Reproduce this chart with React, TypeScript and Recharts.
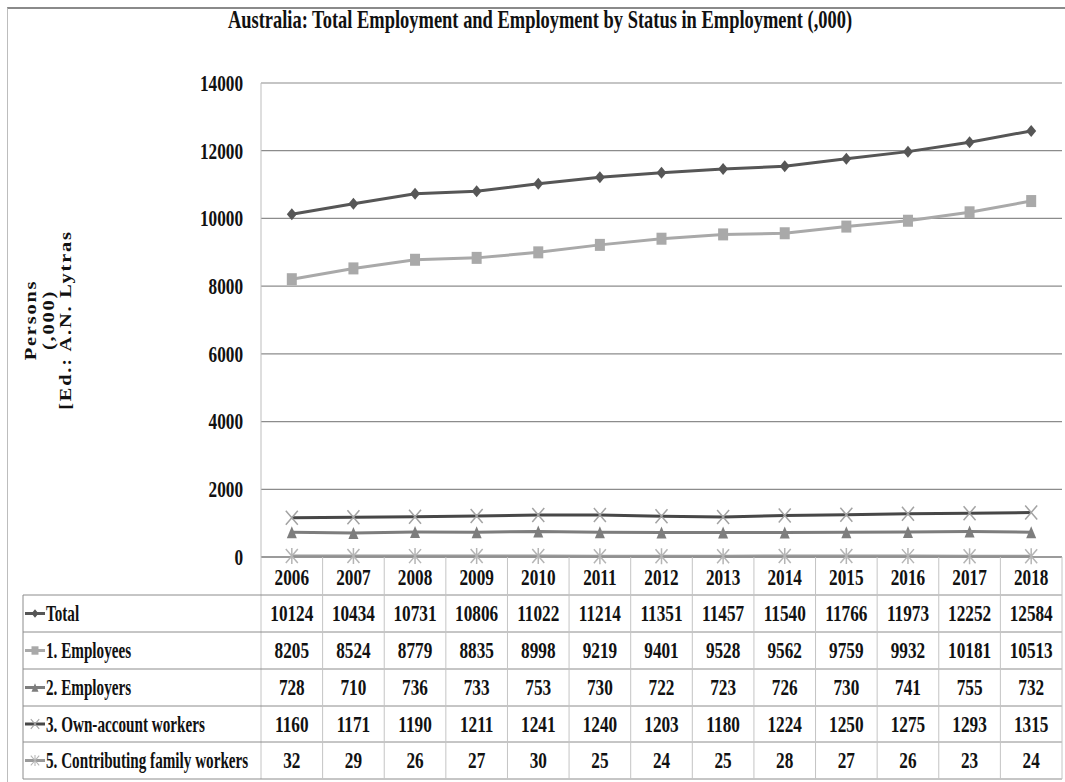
import React from 'react';
import { LineChart, Line, XAxis, YAxis, CartesianGrid } from 'recharts';

const years = ['2006', '2007', '2008', '2009', '2010', '2011', '2012', '2013', '2014', '2015', '2016', '2017', '2018'];
const total = [10124, 10434, 10731, 10806, 11022, 11214, 11351, 11457, 11540, 11766, 11973, 12252, 12584];
const employees = [8205, 8524, 8779, 8835, 8998, 9219, 9401, 9528, 9562, 9759, 9932, 10181, 10513];
const employers = [728, 710, 736, 733, 753, 730, 722, 723, 726, 730, 741, 755, 732];
const ownAccount = [1160, 1171, 1190, 1211, 1241, 1240, 1203, 1180, 1224, 1250, 1275, 1293, 1315];
const familyWorkers = [32, 29, 26, 27, 30, 25, 24, 25, 28, 27, 26, 23, 24];
const yTicks = [0, 2000, 4000, 6000, 8000, 10000, 12000, 14000];

const W = 1065;
const H = 782;
const PLOT_LEFT = 261;
const PLOT_RIGHT = 1062;
const PLOT_TOP = 83;
const PLOT_BOTTOM = 557;
const BAND = (PLOT_RIGHT - PLOT_LEFT) / years.length;
const TABLE_LEFT = 23;
const ROW_LINES = [595, 632, 669, 706, 742, 779];
const FONT = "'Liberation Serif', 'Times New Roman', serif";

const data = years.map((y, i) => ({
  year: y,
  total: total[i],
  employees: employees[i],
  employers: employers[i],
  ownAccount: ownAccount[i],
  familyWorkers: familyWorkers[i],
}));

// marker shapes
const diamond = (fill: string) => (p: any) => (
  <path key={`d${p.index}`} d={`M${p.cx},${p.cy - 6}L${p.cx + 5},${p.cy}L${p.cx},${p.cy + 6}L${p.cx - 5},${p.cy}Z`} fill={fill} />
);
const square = (fill: string) => (p: any) => (
  <rect key={`s${p.index}`} x={p.cx - 5} y={p.cy - 6} width={10} height={12} fill={fill} />
);
const triangle = (fill: string) => (p: any) => (
  <path key={`t${p.index}`} d={`M${p.cx},${p.cy - 6}L${p.cx + 5},${p.cy + 6}L${p.cx - 5},${p.cy + 6}Z`} fill={fill} />
);
const cross = (stroke: string) => (p: any) => (
  <path key={`x${p.index}`} d={`M${p.cx - 6},${p.cy - 7}L${p.cx + 6},${p.cy + 7}M${p.cx + 6},${p.cy - 7}L${p.cx - 6},${p.cy + 7}`} stroke={stroke} strokeWidth={1.5} />
);
const star = (stroke: string) => (p: any) => (
  <path key={`a${p.index}`} d={`M${p.cx - 6},${p.cy - 7}L${p.cx + 6},${p.cy + 7}M${p.cx + 6},${p.cy - 7}L${p.cx - 6},${p.cy + 7}M${p.cx},${p.cy - 8}L${p.cx},${p.cy + 8}`} stroke={stroke} strokeWidth={1.5} />
);

const series = [
  { key: 'total', label: 'Total', values: total, color: '#565656', markColor: '#565656', mark: diamond },
  { key: 'employees', label: '1. Employees', values: employees, color: '#a9a9a9', markColor: '#a9a9a9', mark: square },
  { key: 'employers', label: '2. Employers', values: employers, color: '#7d7d7d', markColor: '#7d7d7d', mark: triangle },
  { key: 'ownAccount', label: '3. Own-account workers', values: ownAccount, color: '#474747', markColor: '#a3a3a3', mark: cross },
  { key: 'familyWorkers', label: '5. Contributing family workers', values: familyWorkers, color: '#9a9a9a', markColor: '#b5b5b5', mark: star },
];

const Txt = ({ x, y, anchor, size = 23, squeeze = 0.75, children }: any) => (
  <text
    transform={`translate(${x},${y}) scale(${squeeze},1)`}
    textAnchor={anchor}
    dominantBaseline="central"
    fontFamily={FONT}
    fontWeight="bold"
    fontSize={size}
    fill="#111"
  >
    {children}
  </text>
);

const YTick = (props: any) => {
  const { x, y, payload } = props;
  return <Txt x={x} y={y} anchor="end" size={23}>{payload.value}</Txt>;
};

const TableTick = (props: any) => {
  const { x, payload, index } = props;
  const i = index ?? years.indexOf(payload.value);
  const gridStroke = '#c4c4c4';
  const rowLine = '#8c8c8c';
  return (
    <g>
      {i === 0 && (
        <g>
          <line x1={PLOT_LEFT} x2={PLOT_LEFT} y1={PLOT_BOTTOM} y2={ROW_LINES[5]} stroke={gridStroke} />
          <line x1={TABLE_LEFT} x2={TABLE_LEFT} y1={ROW_LINES[0]} y2={ROW_LINES[5]} stroke={rowLine} />
          {ROW_LINES.map((ry) => (
            <line key={ry} x1={TABLE_LEFT} x2={PLOT_RIGHT} y1={ry} y2={ry} stroke={rowLine} />
          ))}
          {series.map((s, r) => {
            const cy = (ROW_LINES[r] + ROW_LINES[r + 1]) / 2;
            const mk = s.mark(s.markColor)({ cx: 35, cy, index: 99 });
            return (
              <g key={s.key}>
                <line x1={25} x2={45} y1={cy} y2={cy} stroke={s.color} strokeWidth={3} />
                {React.cloneElement(mk, { transform: `translate(35,${cy}) scale(0.7) translate(-35,${-cy})` })}
                <Txt x={46} y={cy} anchor="start" size={23} squeeze={0.66}>{s.label}</Txt>
              </g>
            );
          })}
        </g>
      )}
      <line x1={x + BAND / 2} x2={x + BAND / 2} y1={PLOT_BOTTOM} y2={ROW_LINES[5]} stroke={gridStroke} />
      <Txt x={x} y={(PLOT_BOTTOM + ROW_LINES[0]) / 2 + 1} anchor="middle" size={23}>{payload.value}</Txt>
      {series.map((s, r) => (
        <Txt key={s.key} x={x} y={(ROW_LINES[r] + ROW_LINES[r + 1]) / 2} anchor="middle" size={23}>
          {s.values[i]}
        </Txt>
      ))}
    </g>
  );
};

export default function App() {
  return (
    <div style={{ position: 'absolute', left: 0, top: 0, width: W, height: H, background: '#fff' }}>
      <div style={{ position: 'absolute', left: 7, top: 7, right: 0, bottom: 0, borderLeft: '1px solid #bdbdbd', borderTop: '2px solid #8a8a8a' }} />
      <LineChart
        width={W}
        height={H}
        data={data}
        margin={{ top: PLOT_TOP, right: W - PLOT_RIGHT, left: 0, bottom: 0 }}
        style={{ position: 'absolute', left: 0, top: 0 }}
      >
        <text
          transform="translate(540,19) scale(0.71,1)"
          textAnchor="middle"
          dominantBaseline="central"
          fontFamily={FONT}
          fontWeight="bold"
          fontSize={26}
          fill="#111"
        >
          Australia: Total Employment and Employment by Status in Employment (,000)
        </text>
        <text
          transform="translate(48,320) rotate(-90) scale(1.2,1)"
          textAnchor="middle"
          fontFamily={FONT}
          fontWeight="bold"
          fontSize={17}
          letterSpacing={1.5}
          fill="#111"
        >
          <tspan x={0} y={-12}>Persons</tspan>
          <tspan x={0} y={5.5}>(,000)</tspan>
          <tspan x={0} y={23}>[Ed.: A.N. Lytras</tspan>
        </text>
        <CartesianGrid vertical={false} stroke="#8c8c8c" strokeWidth={1.2} />
        <XAxis
          dataKey="year"
          height={H - PLOT_BOTTOM}
          padding={{ left: BAND / 2, right: BAND / 2 }}
          axisLine={{ stroke: '#8c8c8c', strokeWidth: 1.5 }}
          tickLine={false}
          interval={0}
          tick={<TableTick />}
        />
        <YAxis
          width={PLOT_LEFT}
          domain={[0, 14000]}
          ticks={yTicks}
          interval={0}
          axisLine={{ stroke: '#bdbdbd' }}
          tickLine={false}
          tickMargin={12}
          tick={<YTick />}
        />
        {series.map((s) => (
          <Line
            key={s.key}
            type="linear"
            dataKey={s.key}
            stroke={s.color}
            strokeWidth={3}
            dot={s.mark(s.markColor)}
            activeDot={false}
            isAnimationActive={false}
          />
        ))}
      </LineChart>
    </div>
  );
}
